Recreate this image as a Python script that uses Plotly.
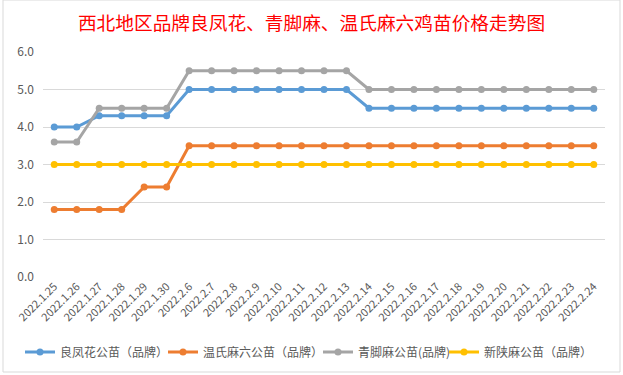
import plotly.graph_objects as go

dates = ["2022.1.25", "2022.1.26", "2022.1.27", "2022.1.28", "2022.1.29", "2022.1.30",
         "2022.2.6", "2022.2.7", "2022.2.8", "2022.2.9", "2022.2.10", "2022.2.11",
         "2022.2.12", "2022.2.13", "2022.2.14", "2022.2.15", "2022.2.16", "2022.2.17",
         "2022.2.18", "2022.2.19", "2022.2.20", "2022.2.21", "2022.2.22", "2022.2.23",
         "2022.2.24"]

liangfenghua = [4.0, 4.0, 4.3, 4.3, 4.3, 4.3,
                5.0, 5.0, 5.0, 5.0, 5.0, 5.0, 5.0, 5.0,
                4.5, 4.5, 4.5, 4.5, 4.5, 4.5, 4.5, 4.5, 4.5, 4.5, 4.5]
wenshi = [1.8, 1.8, 1.8, 1.8, 2.4, 2.4,
          3.5, 3.5, 3.5, 3.5, 3.5, 3.5, 3.5, 3.5,
          3.5, 3.5, 3.5, 3.5, 3.5, 3.5, 3.5, 3.5, 3.5, 3.5, 3.5]
qingjiao = [3.6, 3.6, 4.5, 4.5, 4.5, 4.5,
            5.5, 5.5, 5.5, 5.5, 5.5, 5.5, 5.5, 5.5,
            5.0, 5.0, 5.0, 5.0, 5.0, 5.0, 5.0, 5.0, 5.0, 5.0, 5.0]
xinshan = [3.0] * 25

series_names = ["良凤花公苗（品牌）", "温氏麻六公苗（品牌）", "青脚麻公苗(品牌)", "新陕麻公苗（品牌）"]
series_values = [liangfenghua, wenshi, qingjiao, xinshan]
series_colors = ["#5B9BD5", "#ED7D31", "#A5A5A5", "#FFC000"]

title_text = "西北地区品牌良凤花、青脚麻、温氏麻六鸡苗价格走势图"

font_family = "Noto Sans CJK SC, Microsoft YaHei, sans-serif"

# pixel left edge of each legend entry (layout only)
legend_px = [20, 163, 318, 444]
legend_ids = ["legend", "legend2", "legend3", "legend4"]

fig = go.Figure()
for name, vals, col, lid in zip(series_names, series_values, series_colors, legend_ids):
    fig.add_trace(go.Scatter(
        x=dates, y=vals, name=name, mode="lines+markers",
        line=dict(color=col, width=3),
        marker=dict(color=col, size=7),
        legend=lid,
    ))

fig.update_layout(
    width=623, height=375,
    margin=dict(l=43, r=18, t=52, b=98, autoexpand=False),
    paper_bgcolor="white", plot_bgcolor="white",
    font=dict(family=font_family, color="#595959", size=12),
    title=dict(text=title_text, x=0.5, xref="container", xanchor="center",
               y=1 - 23 / 375, yref="container", yanchor="middle",
               font=dict(family=font_family, size=18.7, color="#FF0000")),
    showlegend=True,
    xaxis=dict(type="category", range=[-0.5, len(dates) - 0.5], tickangle=-45,
               showgrid=False, showline=False,
               ticks="", tickfont=dict(size=11, color="#595959"), zeroline=False,
               fixedrange=True),
    yaxis=dict(range=[0, 6], dtick=1, tickformat=".1f", showgrid=True,
               gridcolor="#D9D9D9", gridwidth=1, zeroline=False, showline=False,
               ticks="", ticklabelstandoff=8, tickfont=dict(size=12, color="#595959")),
)

for lid, px in zip(legend_ids, legend_px):
    fig.update_layout({lid: dict(orientation="h", xref="paper", yref="paper",
                                 x=(px - 43) / 562, xanchor="left",
                                 y=(277 - 352) / 225, yanchor="middle",
                                 font=dict(size=12, color="#595959"), itemwidth=30,
                                 bgcolor="rgba(0,0,0,0)")})

fig.add_shape(type="rect", xref="paper", yref="paper",
              x0=(3 - 43) / 562, x1=(620 - 43) / 562,
              y0=(277 - 372) / 225, y1=(277 - 0) / 225,
              line=dict(color="#D9D9D9", width=1), fillcolor="rgba(0,0,0,0)", layer="below")

fig.write_html("out.html", config={"displayModeBar": False},
               post_script="document.body.style.margin='0';")
